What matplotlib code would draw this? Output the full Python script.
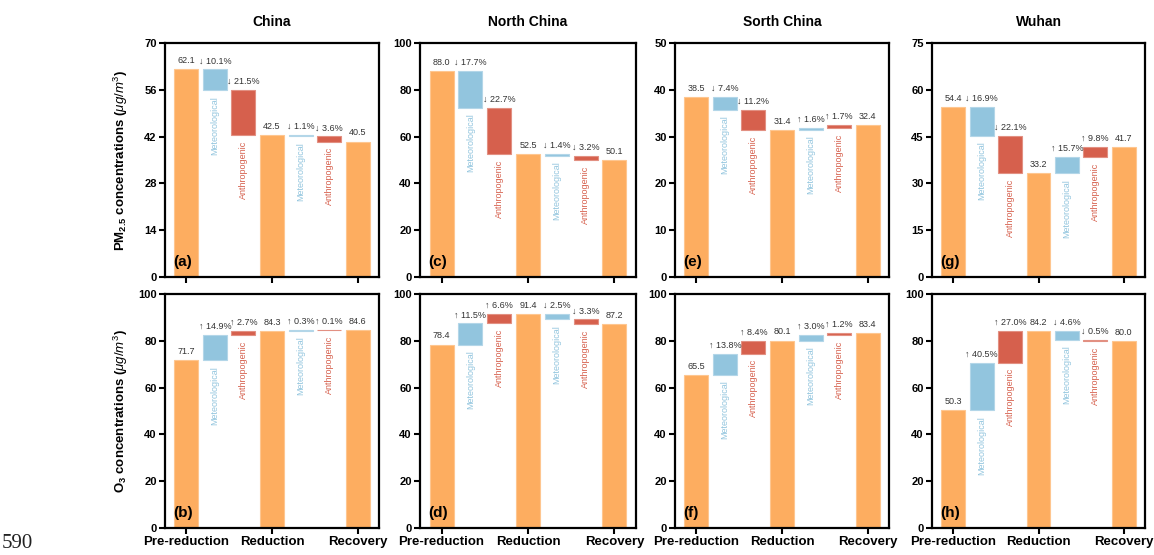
import matplotlib
matplotlib.use("Agg")
import matplotlib.pyplot as plt
import matplotlib.colors as mcolors
import numpy as np

plt.rcParams['font.family'] = ['Liberation Sans', 'DejaVu Sans']
plt.rcParams['mathtext.fontset'] = 'custom'
plt.rcParams['mathtext.rm'] = 'Liberation Sans'
plt.rcParams['mathtext.it'] = 'Liberation Sans:italic'
plt.rcParams['mathtext.bf'] = 'Liberation Sans:bold'

# ---------------- data ----------------
regions = ['China', 'North China', 'Sorth China', 'Wuhan']
stage_labels = ['Pre-reduction', 'Reduction', 'Recovery']
panel_tags_pm = ['(a)', '(c)', '(e)', '(g)']
panel_tags_o3 = ['(b)', '(d)', '(f)', '(h)']

pm_totals = [[62.1, 42.5, 40.5], [88.0, 52.5, 50.1], [38.5, 31.4, 32.4], [54.4, 33.2, 41.7]]
pm_met_pct = [[-10.1, -1.1], [-17.7, -1.4], [-7.4, 1.6], [-16.9, 15.7]]
pm_anth_pct = [[-21.5, -3.6], [-22.7, -3.2], [-11.2, 1.7], [-22.1, 9.8]]

o3_totals = [[71.7, 84.3, 84.6], [78.4, 91.4, 87.2], [65.5, 80.1, 83.4], [50.3, 84.2, 80.0]]
o3_met_pct = [[14.9, 0.3], [11.5, -2.5], [13.8, 3.0], [40.5, -4.6]]
o3_anth_pct = [[2.7, 0.1], [6.6, -3.3], [8.4, 1.2], [27.0, -0.5]]

pm_ylims = [70, 100, 50, 75]
pm_ysteps = [14, 20, 10, 15]
o3_ylims = [100, 100, 100, 100]
o3_ysteps = [20, 20, 20, 20]

# ---------------- style ----------------
c_total = '#FDAD60'
c_met = '#92C5DE'
c_anth = '#D6604D'
c_val = '#333333'


def lighter(c, f=0.35):
    r = np.array(mcolors.to_rgb(c))
    return tuple(r + (1 - r) * f)


W, H = 1154, 555
fig = plt.figure(figsize=(W / 100, H / 100), dpi=100)

col_left = [165, 420, 675, 932]
col_w = [214, 216, 214, 213]
row_top = [43, 294]
row_h = 234


def draw_panel(ax, totals, met_pct, anth_pct, ymax, ystep, tag, show_xlabels):
    xs_total = [0, 3, 6]
    bw = 0.84
    # totals
    for x, v in zip(xs_total, totals):
        ax.bar(x, v, width=bw, color=c_total, edgecolor=lighter(c_total, 0.3), linewidth=0.8)
        ax.annotate(f'{v:.1f}', (x, v), xytext=(0, 3), textcoords='offset points',
                    ha='center', va='bottom', fontsize=6.5, color=c_val)
    for k in range(2):
        start = totals[k]
        met_end = start * (1 + met_pct[k] / 100.0)
        end = totals[k + 1]
        segs = [(xs_total[k] + 1, start, met_end, met_pct[k], c_met, 'Meteorological'),
                (xs_total[k] + 2, met_end, end, anth_pct[k], c_anth, 'Anthropogenic')]
        for x, a, b, pct, col, name in segs:
            lo, hi = min(a, b), max(a, b)
            ax.bar(x, hi - lo, bottom=lo, width=bw, color=col,
                   edgecolor=lighter(col, 0.3), linewidth=0.8)
            arrow = '\u2191' if pct > 0 else '\u2193'
            ax.annotate(f'{arrow} {abs(pct):.1f}%', (x, hi), xytext=(0, 3),
                        textcoords='offset points', ha='center', va='bottom',
                        fontsize=6.5, color=c_val)
            ax.annotate(name, (x, lo), xytext=(0, -4), textcoords='offset points',
                        ha='center', va='top', rotation=90, fontsize=6.5, color=col)
    ax.set_xlim(-0.75, 6.75)
    ax.set_ylim(0, ymax)
    ax.set_yticks(np.arange(0, ymax + 0.1, ystep))
    ax.set_yticklabels([f'{int(t)}' for t in np.arange(0, ymax + 0.1, ystep)],
                       fontweight='bold', fontsize=8)
    ax.set_xticks(xs_total)
    if show_xlabels:
        ax.set_xticklabels(stage_labels, fontweight='bold', fontsize=9.5)
    else:
        ax.set_xticklabels([])
    for s in ax.spines.values():
        s.set_linewidth(1.6)
    ax.tick_params(direction='out', length=4, width=1.5, pad=2)
    ax.text(0.04, 0.035, tag, transform=ax.transAxes, fontsize=11,
            fontweight='bold', ha='left', va='bottom')


for i in range(4):
    for r in range(2):
        left = col_left[i] / W
        bottom = 1 - (row_top[r] + row_h) / H
        ax = fig.add_axes([left, bottom, col_w[i] / W, row_h / H])
        if r == 0:
            draw_panel(ax, pm_totals[i], pm_met_pct[i], pm_anth_pct[i],
                       pm_ylims[i], pm_ysteps[i], panel_tags_pm[i], False)
            fig.text((col_left[i] + col_w[i] / 2) / W, 1 - 22 / H, regions[i],
                     ha='center', va='center', fontsize=10, fontweight='bold')
        else:
            draw_panel(ax, o3_totals[i], o3_met_pct[i], o3_anth_pct[i],
                       o3_ylims[i], o3_ysteps[i], panel_tags_o3[i], True)

fig.text(121 / W, 1 - (row_top[0] + row_h / 2) / H,
         r'PM$_{\mathbf{2.5}}$ concentrations ($\mu g/m^3$)',
         rotation=90, ha='center', va='center', fontsize=9.5, fontweight='bold')
fig.text(121 / W, 1 - (row_top[1] + row_h / 2) / H,
         r'O$_{\mathbf{3}}$ concentrations ($\mu g/m^3$)',
         rotation=90, ha='center', va='center', fontsize=9.5, fontweight='bold')

fig.text(2 / W, 1 - 553 / H, '590', family='Liberation Serif', fontsize=15,
         ha='left', va='bottom', color='#222222')

fig.savefig('out.png', dpi=100)
